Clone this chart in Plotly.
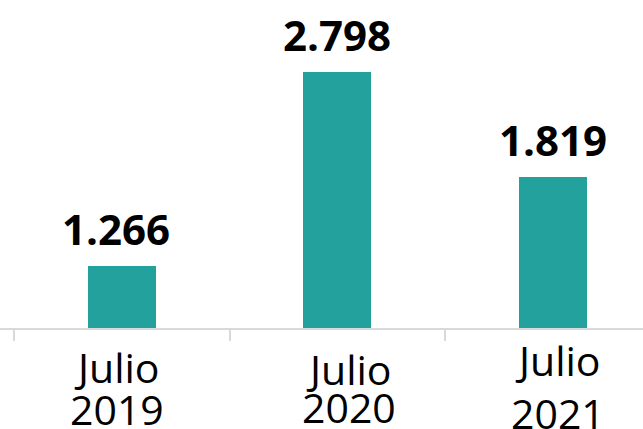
import math
import plotly.graph_objects as go

categories = ["Julio 2019", "Julio 2020", "Julio 2021"]
month_labels = ["Julio", "Julio", "Julio"]
year_labels = ["2019", "2020", "2021"]
values = [1266, 2798, 1819]
value_labels = ["1.266", "2.798", "1.819"]

BAR_COLOR = "#23a19d"
FONT = "Open Sans"

xpos = list(range(len(categories)))
boundaries = [i - 0.5 for i in xpos] + [xpos[-1] + 0.5]

fig = go.Figure()
fig.add_trace(go.Bar(
    x=xpos, y=values, width=0.316,
    marker=dict(color=BAR_COLOR, line=dict(width=0)),
    hoverinfo="skip",
))

annotations = []
val_xshift = [-6, 0, 0]
for i, (v, t) in enumerate(zip(values, value_labels)):
    annotations.append(dict(
        x=xpos[i], y=math.log10(v), xref="x", yref="y", text=t, showarrow=False,
        yanchor="bottom", xanchor="center", yshift=7, xshift=val_xshift[i],
        font=dict(family=FONT, size=42, color="#000000", weight="bold"),
    ))

month_shift = [-9, -11, -2]
year_shift = [-51, -49, -55]
cat_xshift = [-5, 12, 5]
for i in range(len(categories)):
    annotations.append(dict(
        x=xpos[i], y=0, xref="x", yref="paper", text=month_labels[i], showarrow=False,
        yanchor="top", xanchor="center", yshift=month_shift[i], xshift=cat_xshift[i],
        font=dict(family=FONT, size=41, color="#000000"),
    ))
    annotations.append(dict(
        x=xpos[i], y=0, xref="x", yref="paper", text=year_labels[i], showarrow=False,
        yanchor="top", xanchor="center", yshift=year_shift[i], xshift=cat_xshift[i],
        font=dict(family=FONT, size=41, color="#000000"),
    ))

fig.update_layout(
    width=643, height=429,
    margin=dict(l=0, r=0, t=0, b=101, pad=0),
    paper_bgcolor="white", plot_bgcolor="white",
    showlegend=False,
    xaxis=dict(
        range=[-0.566, 2.418], tickmode="array", tickvals=boundaries,
        ticktext=[""] * len(boundaries), showticklabels=False,
        showline=True, linecolor="#d9d9d9", linewidth=2,
        ticks="outside", ticklen=11, tickwidth=2, tickcolor="#d9d9d9",
        showgrid=False, zeroline=False, fixedrange=True,
    ),
    yaxis=dict(
        type="log", range=[2.99236, 3.57467],
        visible=False, showgrid=False, zeroline=False, fixedrange=True,
    ),
    annotations=annotations,
    bargap=0,
)

fig.write_html(
    "out.html",
    config={"displayModeBar": False},
    post_script="document.body.style.margin='0';document.body.style.overflow='hidden';",
)
